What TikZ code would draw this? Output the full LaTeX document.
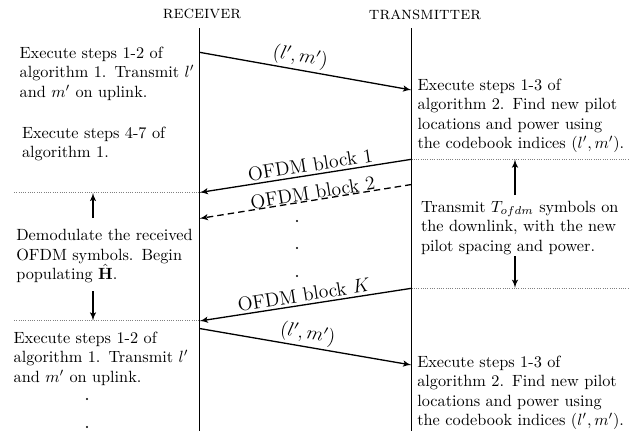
\documentclass[tikz,border=0pt]{standalone}
\usepackage{amsmath}
\usepackage{tikz}
\usetikzlibrary{arrows}
\tikzset{
    lifeline/.style = {line width=1pt, black},
    msg/.style = {->, thick, black},
    divider/.style = {densely dotted, gray, thin},
    span/.style = {->, thick, black},
    stepnote/.style = {anchor=base west, inner sep=0pt,
        text width=5.5cm, align=left},
    actor/.style = {anchor=base, inner sep=0pt,
        font=\fontsize{11}{13}\selectfont\scshape},
    msglabel/.style = {above, sloped, inner sep=1.5pt, font=\large},
}

\begin{document}
\begin{tikzpicture}[>=latex', x=0.615pt, y=-0.615pt]
        \useasboundingbox (0,0) rectangle (641,431);
        % the two sides
        \node [actor] (rx) at (202,18.5) {receiver};
        \node [actor] (tx) at (425,19) {transmitter};
        \coordinate (rxtop) at (199.5,28);
        \coordinate (rxbot) at (199.5,431);
        \coordinate (txtop) at (411.5,28);
        \coordinate (txbot) at (411.5,431);
        \draw [lifeline] (rxtop) -- (rxbot);
        \draw [lifeline] (txtop) -- (txbot);

        % points on the lifelines
        \coordinate (rx1) at (199.5,52.3);
        \coordinate (tx1) at (411.5,90);
        \coordinate (tx2) at (411.5,159.3);
        \coordinate (rx2) at (199.5,192.5);
        \coordinate (tx3) at (411.5,184.5);
        \coordinate (rx3) at (199.5,218.5);
        \coordinate (tx4) at (411.5,288.3);
        \coordinate (rx4) at (199.5,321);
        \coordinate (rx5) at (199.5,328.5);
        \coordinate (tx5) at (411.5,365);

        % messages
        \draw [msg] (rx1) -- node [msglabel, pos=0.465] {$(l',m')$} (tx1);
        \draw [msg] (tx2) -- node [msglabel, pos=0.47] {OFDM block 1} (rx2);
        \draw [msg, dash pattern=on 4pt off 2.5pt] (tx3) -- node [msglabel, pos=0.46, inner sep=0pt] {OFDM block 2} (rx3);
        \draw [msg] (tx4) -- node [msglabel, pos=0.5] {OFDM block $K$} (rx4);
        \draw [msg] (rx5) -- node [msglabel, pos=0.5] {$(l',m')$} (tx5);

        % dots between the blocks
        \foreach \y in {221,248,276}
            \fill (297,\y) circle (1.1);
        \foreach \y in {399,427}
            \fill (87,\y) circle (1.1);

        % dotted markers
        \coordinate (txend1) at (628,159.3);
        \coordinate (txend2) at (628,288);
        \coordinate (rxend1) at (14,192.7);
        \coordinate (rxend2) at (14,320.7);
        \draw [divider] (tx2) -- (txend1);
        \draw [divider] (tx4 |- txend2) -- (txend2);
        \draw [divider] (rxend1) -- (rx2 |- rxend1);
        \draw [divider] (rxend2) -- (rx4 |- rxend2);

        % receiver notes
        \node [stepnote] (rxA) at (19.3,58.3)
            {Execute steps 1-2 of\\ algorithm 1. Transmit $l'$\\ and $m'$ on uplink.};
        \node [stepnote] (rxB) at (21.7,138)
            {Execute steps 4-7 of\\ algorithm 1.};
        \node [stepnote] (rxC) at (16,240.7)
            {Demodulate the received\\ OFDM symbols. Begin\\ populating $\hat{\mathbf{H}}$.};
        \node [stepnote] (rxD) at (13.3,343.3)
            {Execute steps 1-2 of\\ algorithm 1. Transmit $l'$\\ and $m'$ on uplink.};

        % transmitter notes
        \node [stepnote] (txA) at (417.3,90)
            {Execute steps 1-3 of\\ algorithm 2. Find new pilot\\ locations and power using\\ the codebook indices $(l',m')$.};
        \node [stepnote] (txB) at (420.7,212.3)
            {Transmit $T_{ofdm}$ symbols on\\ the downlink, with the new\\ pilot spacing and power.};
        \node [stepnote] (txC) at (417,367.3)
            {Execute steps 1-3 of\\ algorithm 2. Find new pilot\\ locations and power using\\ the codebook indices $(l',m')$.};

        % duration arrows
        \coordinate (rxup) at (93,218);
        \coordinate (rxdown) at (93,291);
        \coordinate (txup) at (515,195);
        \coordinate (txdown) at (515,256);
        \draw [span] (rxup) -- (rxup |- rxend1);
        \draw [span] (rxdown) -- (rxdown |- rxend2);
        \draw [span] (txup) -- (txup |- txend1);
        \draw [span] (txdown) -- (txdown |- txend2);
\end{tikzpicture}
\end{document}
